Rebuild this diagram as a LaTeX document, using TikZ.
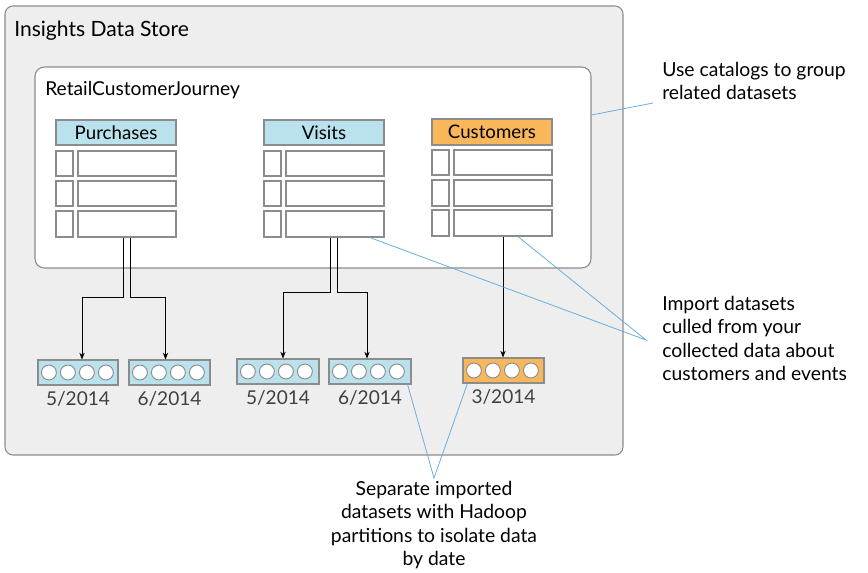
\documentclass[tikz,border=0pt]{standalone}
\usepackage{fontspec}
\setmainfont{Lato}
\usetikzlibrary{calc,arrows.meta,fit}
\definecolor{boxgray}{HTML}{EEEEEE}
\definecolor{edgegray}{HTML}{8C8C8C}
\definecolor{hdrblue}{HTML}{B9E2EC}
\definecolor{hdrorange}{HTML}{F9B75B}
\definecolor{callblue}{HTML}{6AAEE0}
\definecolor{labgray}{HTML}{404040}
\begin{document}
\begin{tikzpicture}[x=0.75pt,y=-0.75pt,
  cell/.style={draw=edgegray, fill=white, inner sep=0pt, line width=0.9pt},
  hdr/.style={cell},
  hdrtext/.style={font=\fontsize{14}{16}\selectfont, inner sep=0pt},
  part/.style={draw=edgegray, inner sep=0pt, line width=0.9pt},
  dot/.style={circle, draw=edgegray, fill=white, inner sep=0pt, minimum size=11.2pt, line width=0.7pt},
  plab/.style={text=labgray, font=\fontsize{14.3}{16}\selectfont, inner sep=0pt},
  arr/.style={-{Stealth[length=5pt,width=4pt]}, line width=0.6pt, black},
  call/.style={callblue, line width=0.6pt},
  calltext/.style={font=\fontsize{14.5}{17.5}\selectfont, inner sep=0pt, align=left}
]
\useasboundingbox (0,0) rectangle (868,572);
% outer store
\node[fit={(5,6) (623,455)}, inner sep=0pt, draw=edgegray, fill=boxgray, rounded corners=6pt, line width=0.8pt] (store) {};
\node[anchor=base west, inner sep=0pt, font=\fontsize{15.8}{18}\selectfont] (storet) at (14,36) {Insights Data Store};
% catalog
\node[fit={(35,67) (591,268)}, inner sep=0pt, draw=edgegray, fill=white, rounded corners=7pt, line width=0.8pt] (cat) {};
\node[anchor=base west, inner sep=0pt, font=\fontsize{14.4}{17}\selectfont] (catt) at (45,95) {RetailCustomerJourney};

% Purchases table
\node[hdr, fill=hdrblue, fit={(56,120) (176,145)}] (ph) {};
\node[hdrtext] at (ph.center) {Purchases};
\node[cell, fit={(56,151) (73,176)}] (ps1) {};
\node[cell, fit={(78,151) (176,176)}] (pr1) {};
\node[cell, fit={(56,181) (73,206)}] (ps2) {};
\node[cell, fit={(78,181) (176,206)}] (pr2) {};
\node[cell, fit={(56,211) (73,237)}] (ps3) {};
\node[cell, fit={(78,211) (176,237)}] (pr3) {};

% Visits table
\node[hdr, fill=hdrblue, fit={(264,120) (384,145)}] (vh) {};
\node[hdrtext] at (vh.center) {Visits};
\node[cell, fit={(264,151) (281,176)}] (vs1) {};
\node[cell, fit={(286,151) (384,176)}] (vr1) {};
\node[cell, fit={(264,181) (281,206)}] (vs2) {};
\node[cell, fit={(286,181) (384,206)}] (vr2) {};
\node[cell, fit={(264,211) (281,237)}] (vs3) {};
\node[cell, fit={(286,211) (384,237)}] (vr3) {};

% Customers table
\node[hdr, fill=hdrorange, fit={(432,119) (552,145)}] (ch) {};
\node[hdrtext] at (ch.center) {Customers};
\node[cell, fit={(432,150) (449,175)}] (cs1) {};
\node[cell, fit={(454,150) (552,175)}] (cr1) {};
\node[cell, fit={(432,180) (449,206)}] (cs2) {};
\node[cell, fit={(454,180) (552,206)}] (cr2) {};
\node[cell, fit={(432,210) (449,236)}] (cs3) {};
\node[cell, fit={(454,210) (552,236)}] (cr3) {};

% partitions
\newcommand{\partition}[6]{%
  \node[part, fill=#6, fit={(#2,#3) (#4,#3+25)}] (#1) {};
  \foreach \k in {0,1,2,3} {
    \node[dot] (#1d\k) at ($(#1.west)+(11.5+19*\k,0)$) {};
  }
  \node[plab, anchor=north] (#1l) at ($(#1.south)+(0,6)$) {#5};
}
\partition{pp1}{38}{360}{118}{5/2014}{hdrblue}
\partition{pp2}{129}{360}{210}{6/2014}{hdrblue}
\partition{pp3}{237}{359}{319}{5/2014}{hdrblue}
\partition{pp4}{329}{359}{411}{6/2014}{hdrblue}
\partition{pp5}{463}{358}{544}{3/2014}{hdrorange}

% connectors
\draw[arr] ($(pr3.south)+(-3.5,0)$) -- ++(0,60) -| ($(pp1.north)+(4,0)$);
\draw[arr] ($(pr3.south)+(3.5,0)$) -- ++(0,60) -| ($(pp2.north)+(-4,0)$);
\draw[arr] ($(vr3.south)+(-4.5,0)$) -- ++(0,55) -| ($(pp3.north)+(5,0)$);
\draw[arr] ($(vr3.south)+(2.5,0)$) -- ++(0,55) -| ($(pp4.north)+(-3,0)$);
\draw[arr] (cr3.south) -- (cr3.south |- pp5.north);

% callouts
\node[calltext, anchor=north west] (t1) at (662,62) {Use catalogs to group\\related datasets};
\coordinate (t1p) at (653,103);
\draw[call] (cat.east |- 0,115) -- (t1p);

\node[calltext, anchor=north west] (t2) at (662,296) {Import datasets\\culled from your\\collected data about\\customers and events};
\coordinate (t2p) at (646,340);
\draw[call] ($(vr3.south)+(35,0)$) -- (t2p) -- ($(cr3.south)+(15,0)$);

\node[calltext, align=center, anchor=north] (t3) at (434,481) {Separate imported\\datasets with Hadoop\\partitions to isolate data\\by date};
\coordinate (t3p) at (434,478);
\draw[call] ($(pp4.south east)+(-4,0)$) -- (t3p) -- ($(pp5.south west)+(5,0)$);
\end{tikzpicture}
\end{document}
